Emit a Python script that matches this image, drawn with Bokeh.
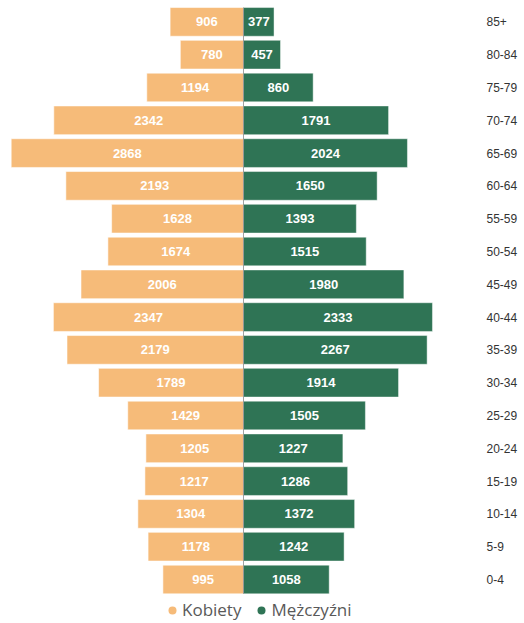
from bokeh.plotting import figure
from bokeh.models import (ColumnDataSource, Range1d, LinearAxis, FixedTicker,
                          Legend, LegendItem)
from bokeh.core.properties import value
from bokeh.embed import file_html
from bokeh.resources import INLINE

ages = ["0-4", "5-9", "10-14", "15-19", "20-24", "25-29", "30-34", "35-39",
        "40-44", "45-49", "50-54", "55-59", "60-64", "65-69", "70-74",
        "75-79", "80-84", "85+"]
female = [995, 1178, 1304, 1217, 1205, 1429, 1789, 2179, 2347, 2006, 1674,
          1628, 2193, 2868, 2342, 1194, 780, 906]
male = [1058, 1242, 1372, 1286, 1227, 1505, 1914, 2267, 2333, 1980, 1515,
        1393, 1650, 2024, 1791, 860, 457, 377]
series_names = ["Kobiety", "Mężczyźni"]

F_COLOR = "#F6BB79"
M_COLOR = "#2F7455"

idx = list(range(len(ages)))
src = ColumnDataSource(dict(
    y=idx,
    f_left=[-v for v in female],
    f_mid=[-v / 2 for v in female],
    f_txt=[str(v) for v in female],
    m_right=male,
    m_mid=[v / 2 for v in male],
    m_txt=[str(v) for v in male],
))

p = figure(width=524, height=623, output_backend="svg", toolbar_location=None,
           x_range=Range1d(-3000, 2926), y_range=Range1d(-1.341, 17.652),
           x_axis_location=None, y_axis_location=None,
           min_border_left=0, min_border_top=0, min_border_bottom=0,
           min_border_right=44, outline_line_color=None)
p.grid.visible = False
p.background_fill_color = "white"
p.border_fill_color = "white"

h = 0.875
p.hbar(y="y", left="f_left", right=0, height=h, source=src,
       fill_color=F_COLOR, line_color="white", line_alpha=0.55, line_width=1)
p.hbar(y="y", left=0, right="m_right", height=h, source=src,
       fill_color=M_COLOR, line_color="white", line_alpha=0.45, line_width=1)

# central axis line through the bars
p.segment(x0=[0], y0=[idx[0] - h / 2], x1=[0], y1=[idx[-1] + h / 2],
          line_color="#8a8a8a", line_width=1, line_alpha=0.8)

p.text(x="f_mid", y="y", text="f_txt", source=src, text_align="center",
       text_baseline="middle", text_color="white", text_font_style="bold",
       text_font=value("Liberation Sans"), text_font_size="13px")
p.text(x="m_mid", y="y", text="m_txt", source=src, text_align="center",
       text_baseline="middle", text_color="white", text_font_style="bold",
       text_font=value("Liberation Sans"), text_font_size="13px")

yaxis = LinearAxis(ticker=FixedTicker(ticks=idx),
                   major_label_overrides={i: a for i, a in enumerate(ages)},
                   axis_line_color=None, major_tick_line_color=None,
                   major_tick_in=0, major_tick_out=0,
                   minor_tick_line_color=None, major_label_standoff=6,
                   major_label_text_font="Liberation Sans",
                   major_label_text_font_size="12px",
                   major_label_text_color="#333333")
p.add_layout(yaxis, "right")

# legend proxies (no visible data)
lf = p.scatter(x=[float("nan")], y=[float("nan")], marker="circle", size=8,
               fill_color=F_COLOR, line_color=None)
lm = p.scatter(x=[float("nan")], y=[float("nan")], marker="circle", size=8,
               fill_color=M_COLOR, line_color=None)
legend = Legend(items=[LegendItem(label=series_names[0], renderers=[lf]),
                       LegendItem(label=series_names[1], renderers=[lm])],
                orientation="horizontal", location=(162, 2),
                glyph_width=20, glyph_height=20, label_standoff=-3,
                spacing=10, padding=0, margin=0, border_line_color=None,
                background_fill_alpha=0, label_text_font="Open Sans",
                label_text_font_size="17px", label_text_color="#595959",
                label_text_baseline="middle", label_height=20)
p.add_layout(legend)

open("out.html", "w").write(file_html(p, INLINE))
